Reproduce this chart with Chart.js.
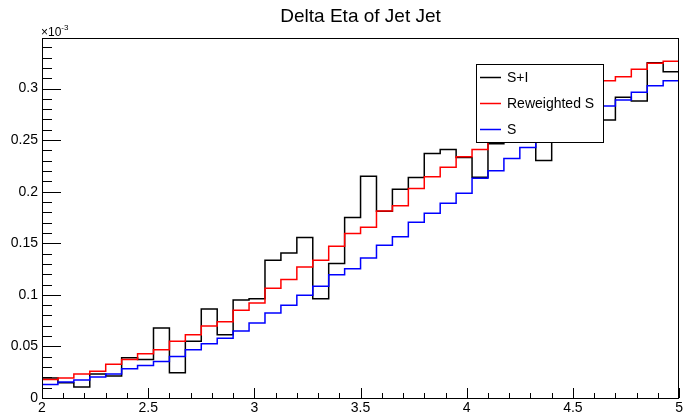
<!DOCTYPE html>
<html>
<head>
<meta charset="utf-8">
<script src="https://cdn.jsdelivr.net/npm/chart.js@4"></script>
<style>
html,body{margin:0;padding:0;background:#fff;}
#wrap{width:685px;height:414px;position:relative;}
</style>
</head>
<body>
<div id="wrap"><canvas id="c"></canvas></div>
<script>
// Bin low edges (Delta Eta), 40 bins of width 0.075 from 2 to 5
const binLowEdges = [2.000,2.075,2.150,2.225,2.300,2.375,2.450,2.525,2.600,2.675,
                     2.750,2.825,2.900,2.975,3.050,3.125,3.200,3.275,3.350,3.425,
                     3.500,3.575,3.650,3.725,3.800,3.875,3.950,4.025,4.100,4.175,
                     4.250,4.325,4.400,4.475,4.550,4.625,4.700,4.775,4.850,4.925];
const xUpperEdge = 5.0;

// Series values (units of 10^-3)
const sPlusI = [0.0194,0.0149,0.0107,0.0233,0.0214,0.0390,0.0374,0.0678,0.0245,0.0549,
                0.0862,0.0614,0.0951,0.0963,0.1335,0.1406,0.1555,0.0963,0.1303,0.1750,
                0.2150,0.1810,0.2024,0.2138,0.2371,0.2410,0.2332,0.2140,0.2466,0.2580,
                0.2620,0.2303,0.2680,0.2790,0.2840,0.2694,0.2915,0.2879,0.3250,0.3163];
const reweightedS = [0.0179,0.0194,0.0233,0.0260,0.0327,0.0374,0.0429,0.0468,0.0549,0.0614,
                     0.0697,0.0740,0.0850,0.0920,0.1063,0.1150,0.1270,0.1335,0.1471,0.1594,
                     0.1655,0.1814,0.1864,0.2031,0.2144,0.2238,0.2338,0.2410,0.2490,0.2570,
                     0.2620,0.2710,0.2790,0.2880,0.2970,0.3076,0.3115,0.3186,0.3245,0.3264];
const sOnly = [0.0130,0.0155,0.0175,0.0204,0.0233,0.0283,0.0316,0.0354,0.0403,0.0468,
               0.0526,0.0580,0.0649,0.0726,0.0823,0.0898,0.0995,0.1083,0.1196,0.1254,
               0.1357,0.1480,0.1563,0.1704,0.1791,0.1888,0.1985,0.2131,0.2204,0.2322,
               0.2429,0.2500,0.2580,0.2660,0.2750,0.2830,0.2888,0.2963,0.3027,0.3076];

const seriesNames = ["S+I", "Reweighted S", "S"];
const xTickValues = [2, 2.5, 3, 3.5, 4, 4.5, 5];
const xTickLabels = ["2", "2.5", "3", "3.5", "4", "4.5", "5"];
const yTickValues = [0, 0.05, 0.1, 0.15, 0.2, 0.25, 0.3];
const yTickLabels = ["0", "0.05", "0.1", "0.15", "0.2", "0.25", "0.3"];
const titleText = "Delta Eta of Jet Jet";
const yExponent = "-3";

const FONT = "'Liberation Sans', Arial, Helvetica, sans-serif";

function histPoints(vals) {
  const pts = binLowEdges.map((e, i) => ({x: e, y: vals[i]}));
  pts.push({x: xUpperEdge, y: vals[vals.length - 1]});
  return pts;
}

const rootDecor = {
  id: 'rootDecor',
  afterDatasetsDraw(chart) {
    const ctx = chart.ctx, a = chart.chartArea;
    const xs = chart.scales.x, ys = chart.scales.y;
    ctx.save();
    ctx.strokeStyle = '#000';
    ctx.lineWidth = 1;
    ctx.beginPath();
    // y ticks (inside)
    for (let k = 0; k <= 34; k++) {
      const v = k * 0.01;
      const py = Math.round(ys.getPixelForValue(v)) + 0.5;
      const len = (k % 5 === 0) ? 19 : 10;
      ctx.moveTo(a.left, py); ctx.lineTo(a.left + len, py);
    }
    // x ticks (inside)
    for (let k = 0; k <= 30; k++) {
      const v = 2 + k * 0.1;
      const px = Math.round(xs.getPixelForValue(v)) + 0.5;
      const len = (k % 5 === 0) ? 10 : 5;
      ctx.moveTo(px, a.bottom); ctx.lineTo(px, a.bottom - len);
    }
    ctx.stroke();
    // frame
    ctx.strokeRect(Math.round(a.left) + 0.5, Math.round(a.top) + 0.5,
                   Math.round(a.right - a.left) - 1, Math.round(a.bottom - a.top));
    ctx.restore();
  },
  afterDraw(chart) {
    const ctx = chart.ctx, a = chart.chartArea;
    ctx.save();
    // exponent label
    ctx.fillStyle = '#000';
    ctx.textBaseline = 'alphabetic';
    ctx.textAlign = 'left';
    ctx.font = '12px ' + FONT;
    ctx.fillText('\u00d710', a.left - 1, a.top - 2);
    const w = ctx.measureText('\u00d710').width;
    ctx.font = '8px ' + FONT;
    ctx.fillText(yExponent, a.left - 1 + w, a.top - 8);
    // legend
    const lx = 476.5, ly = 64.5, lw = 127, lh = 78;
    ctx.fillStyle = '#fff';
    ctx.fillRect(lx, ly, lw, lh);
    ctx.strokeStyle = '#000';
    ctx.lineWidth = 1;
    ctx.strokeRect(lx, ly, lw, lh);
    const ds = chart.data.datasets;
    const rowsY = [77.5, 103.5, 129.5];
    ctx.font = '14px ' + FONT;
    ctx.textBaseline = 'middle';
    for (let i = 0; i < ds.length; i++) {
      ctx.strokeStyle = ds[i].borderColor;
      ctx.lineWidth = 1.5;
      ctx.beginPath();
      ctx.moveTo(480, rowsY[i]); ctx.lineTo(501, rowsY[i]);
      ctx.stroke();
      ctx.fillStyle = '#000';
      ctx.fillText(ds[i].label, 507, rowsY[i] + 1);
    }
    ctx.restore();
  }
};

new Chart(document.getElementById('c'), {
  type: 'line',
  data: {
    datasets: [
      {label: seriesNames[0], data: histPoints(sPlusI), borderColor: '#000000', order: 3},
      {label: seriesNames[1], data: histPoints(reweightedS), borderColor: '#ff0000', order: 2},
      {label: seriesNames[2], data: histPoints(sOnly), borderColor: '#0000ff', order: 1}
    ].map(d => Object.assign(d, {stepped: 'before', borderWidth: 1.5, pointRadius: 0, fill: false, tension: 0}))
  },
  options: {
    responsive: true,
    maintainAspectRatio: false,
    animation: false,
    events: [],
    layout: {padding: {left: 0, right: 2, top: 0, bottom: 0}},
    plugins: {
      legend: {display: false},
      tooltip: {enabled: false},
      title: {
        display: true,
        text: titleText,
        fullSize: false,
        color: '#000',
        font: {family: FONT, size: 19, weight: 'normal', lineHeight: 1.2},
        padding: {top: 5, bottom: 10.2}
      }
    },
    scales: {
      x: {
        type: 'linear',
        min: 2, max: 5,
        grid: {display: false, drawTicks: false},
        border: {display: false},
        afterBuildTicks: s => { s.ticks = xTickValues.map(v => ({value: v})); },
        afterFit: s => { s.height = 16; },
        ticks: {
          padding: 2,
          color: '#000',
          font: {family: FONT, size: 14},
          maxRotation: 0,
          autoSkip: false,
          callback: (v) => { const i = xTickValues.indexOf(v); return i >= 0 ? xTickLabels[i] : ''; }
        }
      },
      y: {
        type: 'linear',
        min: 0, max: 0.349,
        grid: {display: false, drawTicks: false},
        border: {display: false},
        afterBuildTicks: s => { s.ticks = yTickValues.map(v => ({value: v})); },
        afterFit: s => { s.width = 42; },
        ticks: {
          padding: 4,
          color: '#000',
          font: {family: FONT, size: 14},
          autoSkip: false,
          callback: (v) => { const i = yTickValues.indexOf(v); return i >= 0 ? yTickLabels[i] : ''; }
        }
      }
    }
  },
  plugins: [rootDecor]
});
</script>
</body>
</html>
